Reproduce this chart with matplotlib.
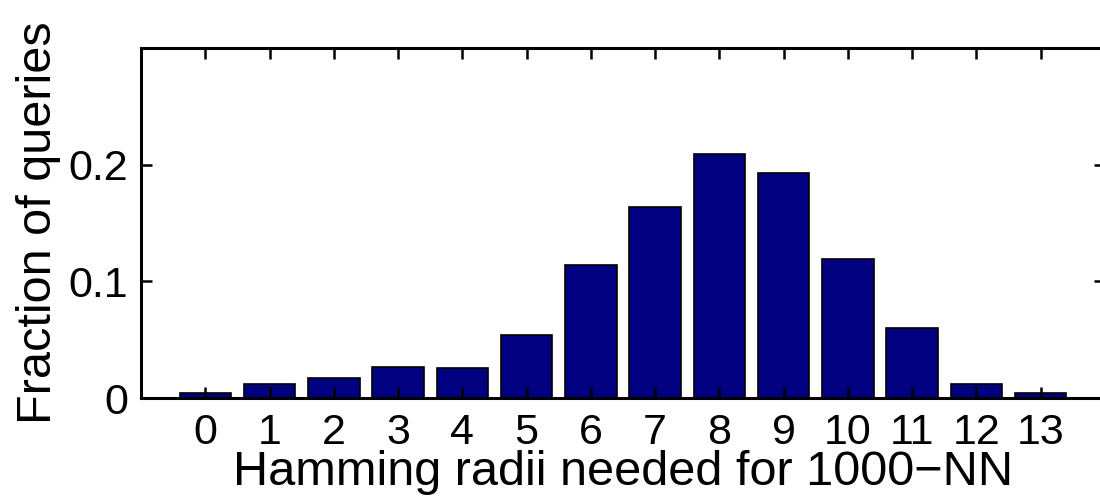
import matplotlib
matplotlib.use("Agg")
import matplotlib.pyplot as plt

radii = list(range(14))
fractions = [0.004, 0.012, 0.017, 0.027, 0.026, 0.054, 0.114, 0.164, 0.209, 0.193, 0.119, 0.060, 0.012, 0.004]
yticks = [0, 0.1, 0.2]
ytick_labels = ["0", "0.1", "0.2"]

plt.rcParams['font.family'] = ['Liberation Sans', 'DejaVu Sans']

fig = plt.figure(figsize=(11, 4.96), dpi=100)
ax = fig.add_axes([141/1100, 1 - 398/496, (1105 - 141)/1100, (398 - 48)/496])
ax.bar(radii, fractions, width=0.8, color='#000080', edgecolor='black', linewidth=1.2)
ax.set_xlim(-1, 14)
ax.set_ylim(0, 0.3)
ax.set_xticks(radii)
ax.set_xticklabels([str(r) for r in radii])
ax.set_yticks(yticks)
ax.set_yticklabels(ytick_labels)
ax.tick_params(direction='in', length=8, width=1.8, labelsize=31, top=True, right=True)
ax.tick_params(axis='x', pad=11)
ax.tick_params(axis='y', pad=9)
for s in ax.spines.values():
    s.set_linewidth(2.2)
ax.set_xlabel("Hamming radii needed for 1000\u2212NN", fontsize=35, labelpad=-2)
ax.set_ylabel("Fraction of queries", fontsize=35, labelpad=6)
fig.savefig("out.png", dpi=100)
